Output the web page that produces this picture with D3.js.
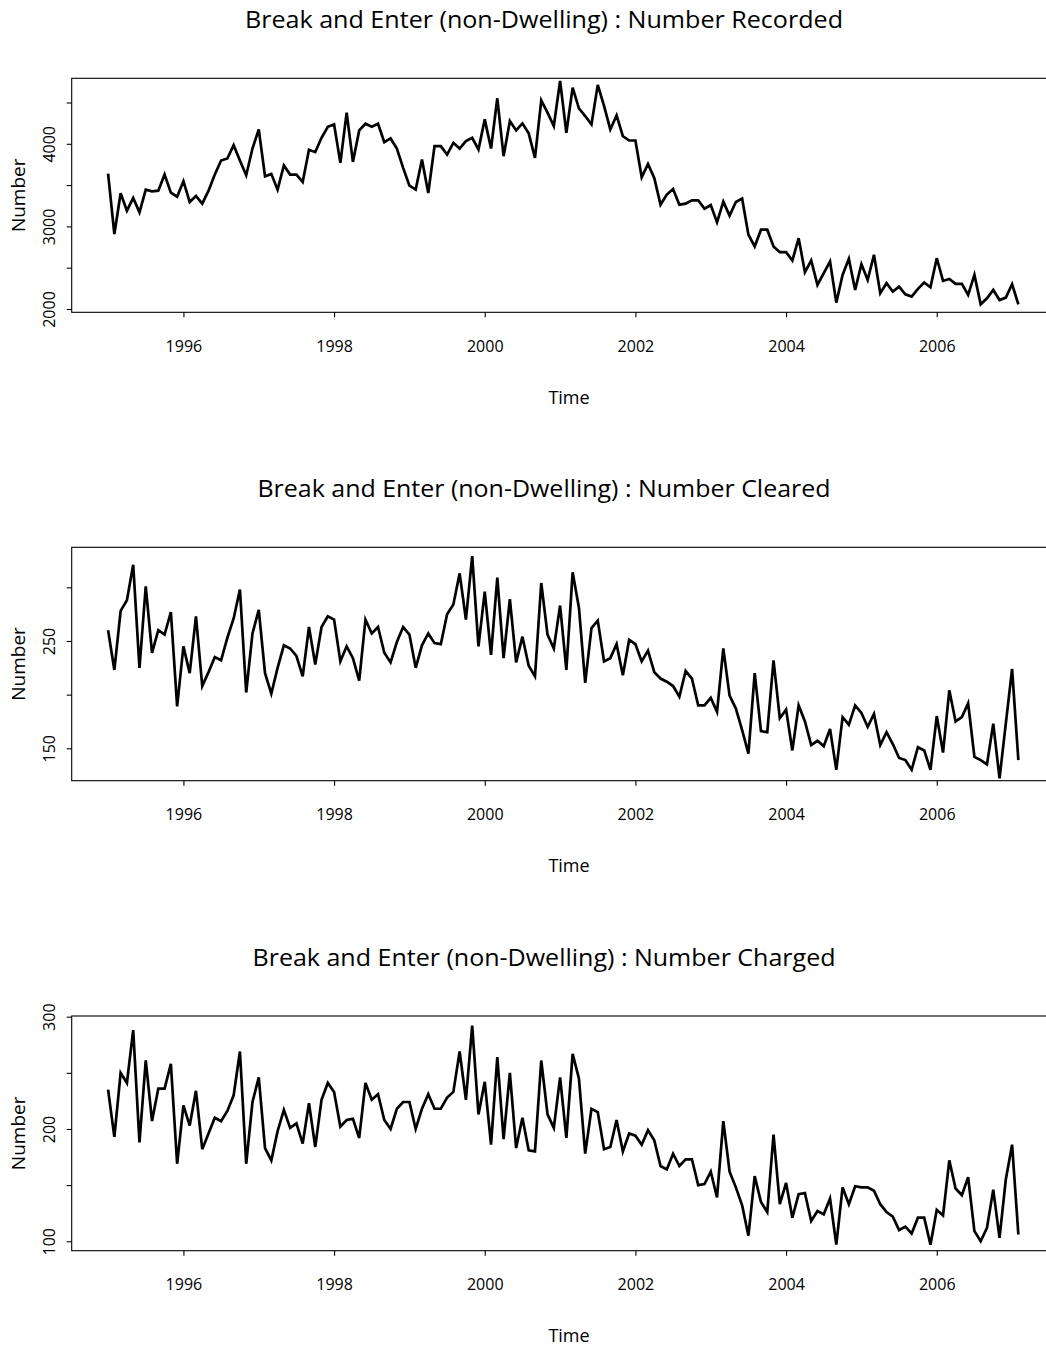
<!DOCTYPE html>
<html>
<head>
<meta charset="utf-8">
<script src="https://cdn.jsdelivr.net/npm/d3@7/dist/d3.min.js"></script>
<style>
  html, body { margin: 0; padding: 0; background: #fff; }
  svg { display: block; }
  text { font-family: "Open Sans", Lato, sans-serif; fill: #000; }
</style>
</head>
<body>
<svg id="chart" width="1046" height="1348"></svg>
<script>
// ---- Data (monthly, Jan 1995 – Feb 2007) ----
const startYear = 1995;
const recorded = [3640,2907,3401,3190,3344,3170,3445,3425,3433,3628,3409,3360,
  3547,3296,3368,3275,3433,3628,3798,3822,3984,3798,3619,3943,
  4174,3607,3636,3445,3737,3628,3628,3538,3927,3899,4073,4206,
  4235,3769,4377,3781,4162,4243,4206,4243,4020,4065,3943,3709,
  3494,3445,3810,3405,3972,3972,3870,4012,3943,4032,4073,3931,
  4296,3943,4551,3850,4275,4162,4247,4126,3830,4526,4377,4215,
  4761,4134,4680,4429,4336,4235,4713,4458,4174,4344,4093,4040,
  4040,3595,3757,3587,3263,3385,3453,3263,3275,3316,3316,3215,
  3259,3050,3300,3130,3296,3336,2899,2757,2960,2960,2757,2688,
  2688,2587,2858,2445,2587,2291,2433,2575,2077,2413,2607,2231,
  2543,2352,2656,2190,2312,2211,2271,2178,2150,2243,2320,2263,
  2615,2340,2364,2304,2304,2170,2413,2057,2130,2231,2109,2138,
  2300,2057];
const cleared = [260,223,278,288,321,225,301,239,260,256,277,189,
  245,220,273,208,221,235,232,253,271,298,202,257,
  279,220,201,225,246,243,236,217,263,228,263,273,
  270,231,245,234,213,270,257,263,239,230,249,263,
  256,225,246,257,248,247,275,284,313,270,329,245,
  296,237,309,234,289,230,254,227,217,304,256,243,
  283,223,314,281,211,262,269,231,234,247,218,251,
  247,231,241,221,215,212,208,198,222,215,190,190,
  197,184,243,199,187,167,145,220,166,165,232,178,
  186,148,190,175,153,157,152,168,130,179,172,190,
  183,170,182,153,165,154,141,139,130,151,148,130,
  180,146,204,175,179,192,142,139,135,173,122,173,
  224,139];
const charged = [235,193,250,241,288,188,261,207,236,236,258,169,
  221,203,234,182,196,210,207,216,230,269,169,224,
  246,183,172,198,217,201,205,187,223,184,226,241,
  233,202,208,209,192,241,226,231,208,200,218,224,
  224,200,218,231,218,218,228,233,269,226,292,213,
  242,186,264,191,250,183,210,181,180,261,213,201,
  246,192,267,245,178,218,215,182,184,208,180,196,
  194,186,199,190,167,164,178,167,173,173,150,151,
  162,139,207,162,148,132,105,158,135,126,195,133,
  152,121,142,143,118,127,124,138,97,148,133,149,
  148,148,145,133,126,122,110,113,107,121,121,97,
  128,123,172,147,141,157,109,100,112,146,103,155,
  186,106];

const xTicks = [1996, 1998, 2000, 2002, 2004, 2006];

const titles = [
  "Break and Enter (non-Dwelling) : Number Recorded",
  "Break and Enter (non-Dwelling) : Number Cleared",
  "Break and Enter (non-Dwelling) : Number Charged"
];
const seriesList = [recorded, cleared, charged];
const yTicksList = [[2000,2500,3000,3500,4000,4500],[150,200,250,300],[100,150,200,250,300]];
const yLabelsList = [[2000,3000,4000],[150,250],[100,200,300]];
const yDomains = [[1960,4793],[119.8,337.3],[91.6,300.6]];

// ---- Layout ----
const plotLeft = 71.7, plotRight = 1054.8;
const panels = [
  {top: 78.3, bottom: 312.3, titleLen: 598},
  {top: 547.3, bottom: 780.7, titleLen: 573},
  {top: 1016, bottom: 1250.7, titleLen: 583}
];

const svg = d3.select("#chart");
const x = d3.scaleLinear().domain([1994.517, 2007.567]).range([plotLeft, plotRight]);

panels.forEach((p, k) => {
  const vals = seriesList[k];
  const data = vals.map((v, i) => ({t: startYear + i / 12, v}));
  const y = d3.scaleLinear().domain(yDomains[k]).range([p.bottom, p.top]);
  const g = svg.append("g");

  // Title
  g.append("text")
    .attr("x", 544).attr("y", p.top - 58)
    .attr("text-anchor", "middle").attr("dy", "0.35em")
    .attr("textLength", p.titleLen).attr("lengthAdjust", "spacingAndGlyphs")
    .style("font-size", "23px")
    .text(titles[k]);

  // Box
  g.append("rect")
    .attr("x", plotLeft).attr("y", p.top)
    .attr("width", plotRight - plotLeft).attr("height", p.bottom - p.top)
    .attr("fill", "none").attr("stroke", "#000").attr("stroke-width", 1.1);

  // X axis
  const xa = g.append("g").attr("transform", `translate(0,${p.bottom})`)
    .call(d3.axisBottom(x).tickValues(xTicks).tickSize(5).tickPadding(0).tickFormat(d3.format("d")));
  xa.select(".domain").remove();
  xa.selectAll(".tick line").attr("stroke", "#000").attr("stroke-width", 1.1);
  xa.selectAll(".tick text")
    .attr("y", 34).attr("dy", "0.35em")
    .style("font-size", "16px").style("font-family", "'Open Sans', sans-serif").attr("fill", "#000");

  // Y axis
  const labs = yLabelsList[k];
  const ya = g.append("g").attr("transform", `translate(${plotLeft},0)`)
    .call(d3.axisLeft(y).tickValues(yTicksList[k]).tickSize(5)
      .tickFormat(d => labs.includes(d) ? String(d) : ""));
  ya.select(".domain").remove();
  ya.selectAll(".tick line").attr("stroke", "#000").attr("stroke-width", 1.1);
  ya.selectAll(".tick text")
    .attr("x", 0).attr("y", 0).attr("dy", "0.35em")
    .attr("text-anchor", "middle")
    .attr("transform", "translate(-22,0) rotate(-90)")
    .style("font-size", "16px").style("font-family", "'Open Sans', sans-serif").attr("fill", "#000");

  // Axis titles
  g.append("text")
    .attr("x", 569).attr("y", p.bottom + 85)
    .attr("text-anchor", "middle").attr("dy", "0.35em")
    .style("font-size", "18px").text("Time");
  g.append("text")
    .attr("transform", `translate(18,${(p.top + p.bottom) / 2}) rotate(-90)`)
    .attr("text-anchor", "middle").attr("dy", "0.35em")
    .style("font-size", "19px").text("Number");

  // Line
  const line = d3.line().x(d => x(d.t)).y(d => y(d.v));
  g.append("path").datum(data)
    .attr("d", line)
    .attr("fill", "none").attr("stroke", "#000")
    .attr("stroke-width", 2.7).attr("stroke-linejoin", "miter").attr("stroke-miterlimit", 4);
});
</script>
</body>
</html>
